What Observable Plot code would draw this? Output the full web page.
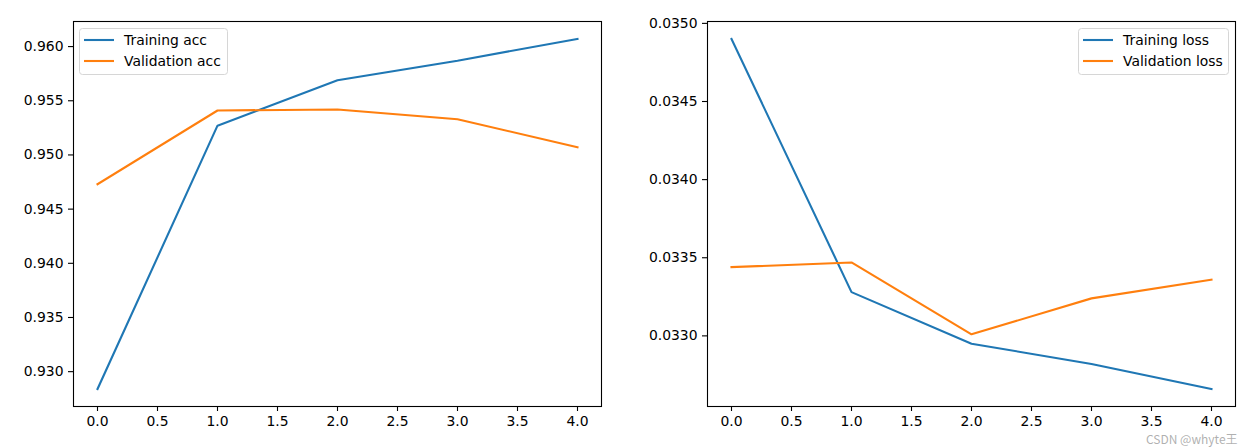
<!DOCTYPE html>
<html>
<head>
<meta charset="utf-8">
<script src="https://cdn.jsdelivr.net/npm/d3@7"></script>
<script src="https://cdn.jsdelivr.net/npm/@observablehq/plot@0.6"></script>
<style>
  html, body { margin: 0; padding: 0; background: white; }
  #wrap { position: relative; width: 1258px; height: 447px; overflow: hidden; font-family: "DejaVu Sans", sans-serif; }
  #left, #right { position: absolute; top: 0; }
  #left { left: 0; }
  #right { left: 634px; }
  #wm { position: absolute; left: 1146px; top: 432px; line-height: 13px; font-family: "Noto Sans CJK SC", "DejaVu Sans", sans-serif; font-size: 12px; color: rgba(150,150,150,0.75); white-space: nowrap; }
</style>
</head>
<body>
<div id="wrap">
  <div id="left"></div>
  <div id="right"></div>
  <div id="wm">CSDN @whyte王</div>
</div>
<script>
const epochs = [0, 1, 2, 3, 4];
const trainAcc = [0.9284, 0.9527, 0.9569, 0.9587, 0.9607];
const valAcc = [0.9473, 0.9541, 0.9542, 0.9533, 0.9507];
const trainLoss = [0.03490, 0.03328, 0.03295, 0.03282, 0.03266];
const valLoss = [0.03344, 0.03347, 0.03301, 0.03324, 0.03336];
const accSeries = ["Training acc", "Validation acc"];
const lossSeries = ["Training loss", "Validation loss"];
const xTicks = [0, 0.5, 1, 1.5, 2, 2.5, 3, 3.5, 4];
const accTicks = [0.930, 0.935, 0.940, 0.945, 0.950, 0.955, 0.960];
const lossTicks = [0.0330, 0.0335, 0.0340, 0.0345, 0.0350];
const colors = ["#1f77b4", "#ff7f0e"];

function rows(names, a, b) {
  const out = [];
  epochs.forEach((e, i) => out.push({epoch: e, value: a[i], series: names[0]}));
  epochs.forEach((e, i) => out.push({epoch: e, value: b[i], series: names[1]}));
  return out;
}

function makePlot(data, names, yTicks, yFmt, width, mLeft, mRight) {
  const ext = d3.extent(data, d => d.value);
  const pad = (ext[1] - ext[0]) * 0.05;
  return Plot.plot({
    width, height: 447,
    marginLeft: mLeft, marginRight: mRight, marginTop: 21, marginBottom: 41,
    style: {fontFamily: "DejaVu Sans, sans-serif", fontSize: "13.9px", color: "black", background: "white", overflow: "visible"},
    x: {domain: [-0.2, 4.2]},
    y: {domain: [ext[0] - pad, ext[1] + pad]},
    color: {domain: names, range: colors},
    marks: [
      Plot.axisX({ticks: xTicks, tickFormat: d3.format(".1f"), tickSize: 5, tickPadding: 5, label: null, strokeWidth: 1.1}),
      Plot.axisY({ticks: yTicks, tickFormat: d3.format(yFmt), tickSize: 5, tickPadding: 5, label: null, strokeWidth: 1.1}),
      Plot.line(data, {x: "epoch", y: "value", stroke: "series", strokeWidth: 2.1, strokeLinejoin: "miter", strokeLinecap: "square"}),
      Plot.frame({stroke: "black", strokeWidth: 1.1})
    ]
  });
}

function addLegend(svg, names, x0, y0, w) {
  const g = d3.select(svg).append("g").attr("text-anchor", "start");
  g.append("rect").attr("x", x0 + 0.5).attr("y", y0 + 0.5).attr("width", w).attr("height", 46)
    .attr("rx", 3).attr("fill", "white").attr("fill-opacity", 0.8).attr("stroke", "#d6d6d6").attr("stroke-width", 1);
  names.forEach((n, i) => {
    const yy = y0 + 12 + i * 21;
    g.append("line").attr("x1", x0 + 5).attr("x2", x0 + 35).attr("y1", yy).attr("y2", yy)
      .attr("stroke", colors[i]).attr("stroke-width", 2.1);
    g.append("text").attr("x", x0 + 45).attr("y", yy).attr("dy", "0.35em").attr("text-anchor", "start")
      .attr("font-family", "DejaVu Sans, sans-serif").attr("font-size", "13.9px").attr("fill", "black").text(n);
  });
}

const left = makePlot(rows(accSeries, trainAcc, valAcc), accSeries, accTicks, ".3f", 634, 73, 33);
addLegend(left, accSeries, 79, 28, 148);
document.getElementById("left").appendChild(left);

const right = makePlot(rows(lossSeries, trainLoss, valLoss), lossSeries, lossTicks, ".4f", 624, 73, 23);
addLegend(right, lossSeries, 1078 - 634, 28, 150);
document.getElementById("right").appendChild(right);
</script>
</body>
</html>
